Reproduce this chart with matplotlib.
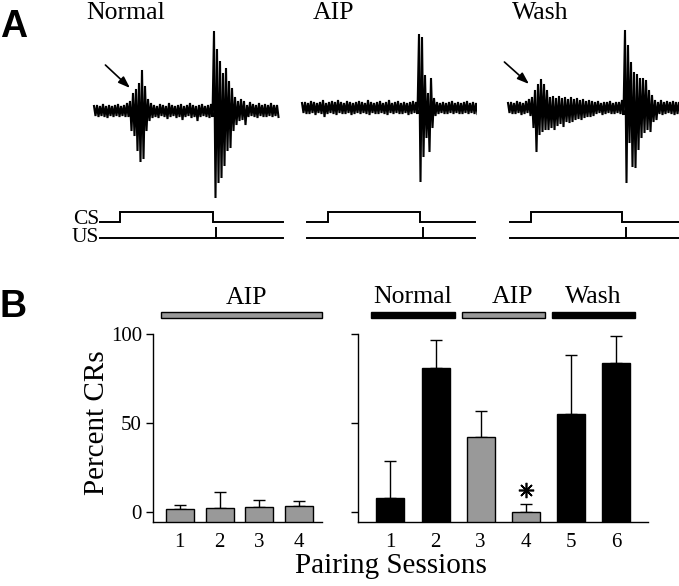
import numpy as np
import matplotlib
matplotlib.use("Agg")
import matplotlib.pyplot as plt

# ---- panel A: recordings (peak up / peak down per sample, arbitrary units) ----
normal_hi = [5, 6, 5, 7, 5, 6, 5, 6, 7, 5, 6, 8,
             10, 18, 22, 28, 41, 25, 12, 8,
             6, 5, 7, 6, 5, 8, 6, 5, 6, 7, 5, 6, 8, 6, 5, 6, 7, 5, 6, 7,
             80, 62, 50, 38, 43, 30, 23, 14, 10, 12,
             10, 6, 9, 7, 6, 8, 6, 7, 6, 8, 6, 6]
normal_lo = [5, 6, 5, 6, 7, 5, 6, 5, 6, 5, 6, 6,
             20, 25, 40, 51, 48, 20, 10, 7,
             6, 7, 5, 6, 8, 6, 5, 7, 6, 9, 6, 5, 7, 6, 10, 6, 5, 6, 7, 6,
             87, 72, 67, 55, 40, 37, 20, 14, 10, 9,
             14, 6, 5, 6, 7, 5, 6, 6, 5, 6, 5, 6]

aip_hi = [5, 6, 5, 7, 6, 5, 6, 8, 5, 6, 7, 6, 8, 6, 5, 7, 6, 5, 6, 7,
          6, 5, 8, 6, 5, 6, 7, 5, 6, 8, 5, 6, 7, 5, 6, 5, 6, 7, 6,
          74, 71, 33, 15, 30, 10,
          6, 5, 6, 5, 6, 7, 5, 6, 5, 6, 7, 5, 6, 5]
aip_lo = [5, 6, 6, 5, 7, 5, 6, 9, 6, 5, 6, 7, 5, 6, 6, 5, 7, 6, 5, 6,
          5, 6, 7, 5, 6, 6, 5, 6, 7, 5, 6, 5, 6, 6, 5, 7, 6, 5, 6,
          74, 49, 30, 44, 20, 8,
          6, 5, 6, 6, 5, 6, 5, 6, 6, 5, 6, 5, 6, 6]

wash_hi = [5, 6, 5, 7, 6, 5, 7,
           9, 11, 18, 24, 29, 24, 18, 11, 12, 10, 12, 10, 11, 9, 11, 9, 10, 8, 9, 7, 8, 7,
           6, 7, 5, 6, 6, 7, 5, 6, 6,
           8,
           78, 63, 46, 36, 34, 30, 30, 28, 18, 13, 8,
           6, 8, 6, 7, 6, 7, 6, 6]
wash_lo = [5, 6, 6, 5, 7, 6, 5,
           8, 20, 44, 27, 24, 22, 22, 20, 22, 18, 16, 19, 14, 15, 14, 12, 11, 12, 10, 9, 9, 8,
           6, 5, 7, 6, 5, 6, 6, 5, 6,
           7,
           75, 35, 59, 60, 42, 30, 25, 22, 24, 14, 12,
           6, 7, 6, 5, 6, 7, 6, 6]

trace_names = ["Normal", "AIP", "Wash"]
cs_on = [8.7, 8.7, 7.7]
cs_off = [39.7, 39.3, 38.0]
us_at = [40.7, 40.3, 39.3]
stim_start = [2.0, 1.7, 0.7]
stim_end = [63.0, 57.7, 57.0]

# ---- panel B: percent CRs ----
left_sessions = [1, 2, 3, 4]
left_pct = [1.5, 2.0, 3.0, 3.5]
left_sem = [2.5, 9.5, 4.0, 2.5]

right_sessions = [1, 2, 3, 4, 5, 6]
right_pct = [8.0, 81.0, 42.0, 0.0, 55.0, 83.5]
right_sem = [20.5, 15.5, 15.0, 4.6, 33.0, 15.5]

right_groups = ["Normal", "AIP", "Wash"]
right_group_first = [1, 3, 5]
right_group_last = [2, 4, 6]

W, H = 679, 586
GRAY = "#999999"
plt.rcParams['font.family'] = ['Liberation Serif', 'DejaVu Serif']

fig = plt.figure(figsize=(W / 100, H / 100), dpi=100)


def rect(x0, y0, x1, y1):
    return [x0 / W, 1 - y1 / H, (x1 - x0) / W, (y1 - y0) / H]


# trace placement: (pixel of first sample, baseline pixel), 3 px per sample
placement = [(94, 111), (302, 108), (508, 108)]
traces = [(normal_hi, normal_lo), (aip_hi, aip_lo), (wash_hi, wash_lo)]
label_x = [86, 313, 512]

for k, (hi, lo) in enumerate(traces):
    x0, base = placement[k]
    xmax = stim_end[k] + 0.5
    right_px = min(x0 + 3 * xmax, W)
    ax = fig.add_axes(rect(x0 - 3, 20, right_px, 248))
    ax.set_xlim(-1, (right_px - x0) / 3)
    ax.set_ylim(-(248 - base), base - 20)
    ax.axis("off")

    n = len(hi)
    t = np.arange(n)
    xs = np.column_stack([t, t + 0.5]).ravel()
    ys = np.column_stack([np.array(hi), -np.array(lo)]).ravel()
    ax.plot(xs, ys, color="black", lw=1.5, solid_joinstyle="miter")

    cs_low, cs_high = -(222 - base), -(212 - base)
    us_y, us_top = -(238 - base), -(228 - base)
    ax.plot([stim_start[k], cs_on[k], cs_on[k], cs_off[k], cs_off[k], stim_end[k]],
            [cs_low, cs_low, cs_high, cs_high, cs_low, cs_low],
            color="black", lw=1.4, solid_joinstyle="miter")
    ax.plot([stim_start[k], stim_end[k]], [us_y, us_y], color="black", lw=1.4)
    ax.plot([us_at[k], us_at[k]], [us_y, us_top], color="black", lw=1.4)

    fig.text(label_x[k] / W, 1 - 13 / H, trace_names[k], ha="left", va="center",
             fontsize=18.5)

    if trace_names[k] != "AIP":
        tip = (cs_on[k] + 3.3, 23) if k == 0 else (cs_on[k] - 0.7, 24)
        ax.annotate("", xy=tip, xytext=(tip[0] - 8.2, 46),
                    arrowprops=dict(arrowstyle="-|>,head_length=0.7,head_width=0.25",
                                    color="black", lw=1.2, shrinkA=0, shrinkB=0))

fig.text(99 / W, 1 - 219 / H, "CS", ha="right", va="center", fontsize=15.5)
fig.text(99 / W, 1 - 238 / H, "US", ha="right", va="center", fontsize=15.5)

sans = ['Liberation Sans', 'DejaVu Sans']
fig.text(0 / W, 1 - 27 / H, "A", ha="left", va="center", fontsize=27,
         fontweight="bold", family=sans)
fig.text(0 / W, 1 - 307 / H, "B", ha="left", va="center", fontsize=27,
         fontweight="bold", family=sans)

# ---- panel B axes ----
YMIN = -5.6
axL = fig.add_axes(rect(153, 334, 322, 522))
axR = fig.add_axes(rect(358, 334, 648, 522))
axL.set_xlim(0.33, 4.57)
axR.set_xlim(0.28, 6.71)

right_colors = []
for s in right_sessions:
    g = [i for i in range(3) if right_group_first[i] <= s <= right_group_last[i]][0]
    right_colors.append(GRAY if right_groups[g] == "AIP" else "black")

for ax, xs, pct, sem, colors, width in [
        (axL, left_sessions, left_pct, left_sem, [GRAY] * 4, 0.7),
        (axR, right_sessions, right_pct, right_sem, right_colors, 0.62)]:
    pct = np.array(pct)
    ax.bar(xs, pct - YMIN, bottom=YMIN, width=width, color=colors,
           edgecolor="black", lw=1, zorder=3)
    ax.errorbar(xs, pct, yerr=[np.zeros(len(sem)), sem], fmt="none",
                ecolor="black", elinewidth=1, capsize=4, capthick=1, zorder=2)
    ax.set_ylim(YMIN, 100)
    ax.set_yticks([0, 50, 100])
    ax.set_xticks(xs)
    for side in ["top", "right"]:
        ax.spines[side].set_visible(False)
    for side in ["left", "bottom"]:
        ax.spines[side].set_linewidth(1)
    ax.tick_params(axis="y", direction="out", length=5, width=1, labelsize=15, pad=3)
    ax.tick_params(axis="x", length=0, labelsize=15, pad=8)

axR.set_yticklabels([])

# condition bars over the plots
px_per_L = (322 - 153) / (4.57 - 0.33)
px_per_R = (648 - 358) / (6.71 - 0.28)
axL.bar((1 + 4) / 2 + 0.05, 3.4, width=3 + 38 / px_per_L + 0.1, bottom=109,
        color=GRAY, edgecolor="black", lw=1, clip_on=False)
axL.text((1 + 4) / 2 + 0.17, 120.5, "AIP", ha="center", va="center",
         fontsize=18.5, clip_on=False)
for name, a, b in zip(right_groups, right_group_first, right_group_last):
    c = GRAY if name == "AIP" else "black"
    axR.bar((a + b) / 2, 3.4, width=(b - a) + 38 / px_per_R, bottom=109,
            color=c, edgecolor="black", lw=1, clip_on=False)
    shift = 0.2 if name == "AIP" else 0.0
    axR.text((a + b) / 2 + shift, 121, name, ha="center", va="center",
             fontsize=18.5, clip_on=False)

# significance mark over session 4
axR.plot([4], [right_pct[3] + right_sem[3] + 8], marker=(8, 2, 0), ms=11,
         mew=1.2, color="black", clip_on=False)

fig.text(97 / W, 1 - 423 / H, "Percent CRs", rotation=90, ha="center",
         va="center", fontsize=21)
fig.text(391 / W, 1 - 566 / H, "Pairing Sessions", ha="center", va="center",
         fontsize=21)

fig.savefig("out.png", dpi=100)
